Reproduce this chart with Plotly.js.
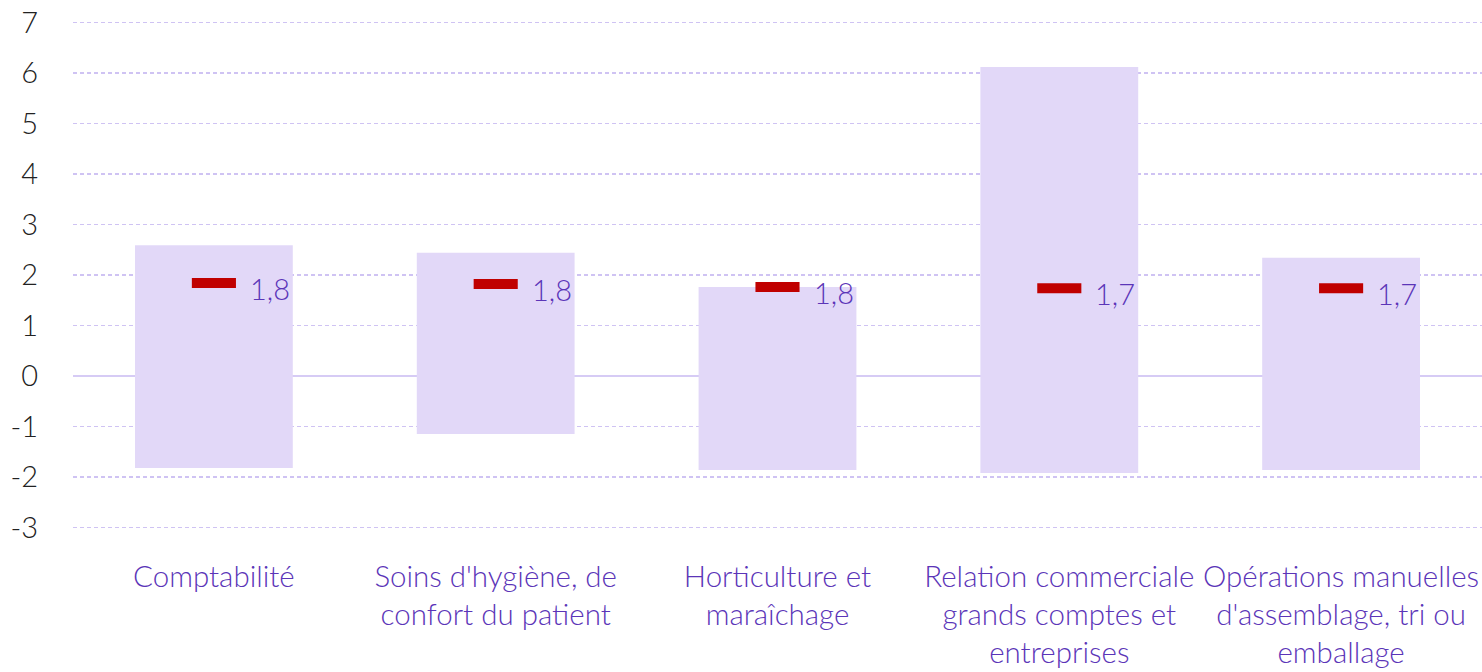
<!DOCTYPE html>
<html><head><meta charset="utf-8">
<script src="https://cdn.plot.ly/plotly-3.0.1.min.js"></script>
<style>html,body{margin:0;padding:0;background:#fff}#chart{width:1482px;height:672px}</style>
</head><body><div id="chart"></div>
<script>
const categories = [
  "Comptabilité",
  "Soins d'hygiène, de<br>confort du patient",
  "Horticulture et<br>maraîchage",
  "Relation commerciale<br>grands comptes et<br>entreprises",
  "Opérations manuelles<br>d'assemblage, tri ou<br>emballage"
];
const lowValues = [-1.82, -1.15, -1.86, -1.92, -1.86];
const highValues = [2.59, 2.44, 1.76, 6.12, 2.34];
const pointValues = [1.84, 1.82, 1.76, 1.74, 1.74];
const pointLabels = ["1,8", "1,8", "1,8", "1,7", "1,7"];
const yTicks = [-3, -2, -1, 0, 1, 2, 3, 4, 5, 6, 7];

const purple = '#5B35B8';
const font = 'Lato, "Open Sans", sans-serif';

const rangeBar = {
  type: 'bar', x: categories,
  base: lowValues,
  y: highValues.map((h, i) => h - lowValues[i]),
  width: 0.56,
  marker: {color: '#E2D8F8', line: {width: 0}},
  hoverinfo: 'skip', showlegend: false
};
const points = {
  type: 'scatter', mode: 'markers', x: categories, y: pointValues,
  marker: {symbol: 'line-ew', size: 31.5, color: '#C00000', line: {color: '#C00000', width: 10}},
  showlegend: false, hoverinfo: 'skip', cliponaxis: false
};
const annotations = categories.map((c, i) => ({
  x: c, y: pointValues[i], text: pointLabels[i], showarrow: false,
  xanchor: 'left', yanchor: 'middle', xshift: 34, yshift: -5,
  font: {family: font, size: 29, color: purple, weight: 300}
}));

const layout = {
  width: 1482, height: 672,
  margin: {l: 73, r: 0, t: 20, b: 142},
  paper_bgcolor: '#fff', plot_bgcolor: '#fff',
  barmode: 'overlay',
  xaxis: {
    type: 'category', showgrid: false, zeroline: false, showline: false, ticks: '',
    tickfont: {family: font, size: 29.5, color: purple, weight: 300},
    ticklabelstandoff: 26, automargin: false
  },
  yaxis: {
    range: [-3.05, 7.05], tickvals: yTicks, ticktext: yTicks.map(String),
    showgrid: true, gridcolor: '#CFC3F3', griddash: '4px,3px', gridwidth: 1.5,
    zeroline: true, zerolinecolor: '#D6CBF5', zerolinewidth: 2,
    showline: false, ticks: '',
    tickfont: {family: font, size: 29, color: '#222', weight: 300},
    ticklabelstandoff: 34, automargin: false
  },
  annotations: annotations,
  font: {family: font}
};
Plotly.newPlot('chart', [rangeBar, points], layout, {displayModeBar: false, staticPlot: true});
</script></body></html>
